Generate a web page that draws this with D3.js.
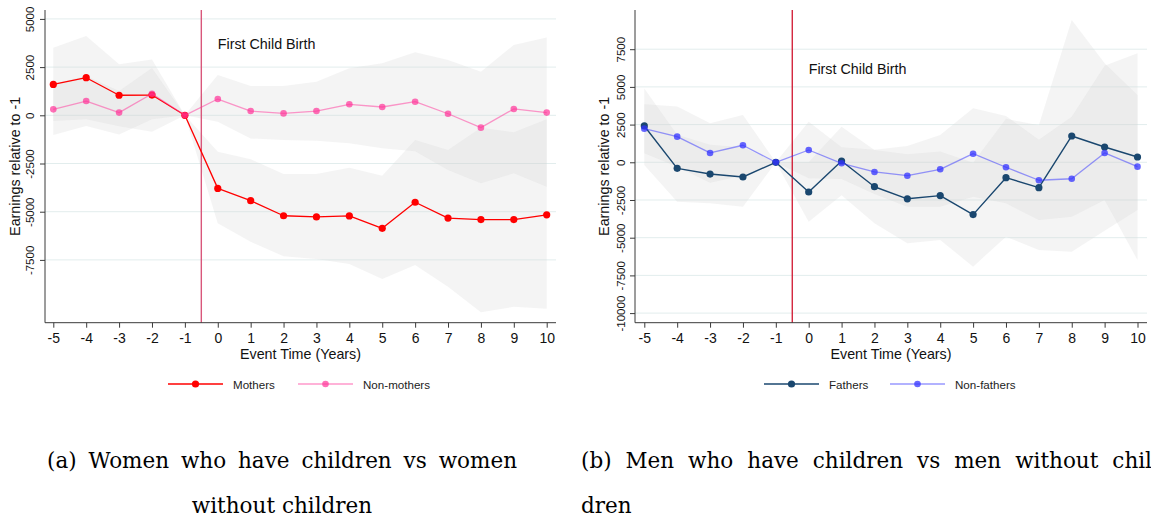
<!DOCTYPE html>
<html>
<head>
<meta charset="utf-8">
<script src="https://cdn.jsdelivr.net/npm/d3@7"></script>
<style>
  html, body { margin: 0; padding: 0; background: #fff; }
  svg { display: block; }
</style>
</head>
<body>
<svg id="chart" width="1151" height="523"></svg>
<script>
// Event time relative to first child birth
const eventYears = [-5, -4, -3, -2, -1, 0, 1, 2, 3, 4, 5, 6, 7, 8, 9, 10];

// Women: earnings relative to year -1
const mothers      = [1600, 1950, 1040, 1050, 0, -3790, -4430, -5210, -5270, -5220, -5860, -4510, -5330, -5410, -5410, -5160];
const mothersLo    = [-300, -210, -570, -850, 0, -5600, -6560, -7310, -7450, -7710, -8490, -7770, -8890, -10220, -9930, -10030];
const mothersHi    = [3500, 4110, 2650, 2900, 0, -1890, -2280, -3050, -3050, -2720, -3130, -1280, -1800, -640, -880, -210];
const nonMothers   = [310, 740, 140, 1120, 0, 845, 220, 100, 220, 570, 430, 705, 80, -640, 330, 140];
const nonMothersLo = [-1020, -560, -990, -200, 0, -330, -1200, -1280, -1320, -1450, -1710, -1860, -2840, -3530, -3010, -3700];
const nonMothersHi = [1640, 2040, 1260, 2450, 0, 2090, 1520, 1520, 1740, 2440, 2700, 3270, 2870, 2260, 3650, 4030];

// Men: earnings relative to year -1
const fathers      = [2410, -400, -780, -975, 0, -1970, 85, -1620, -2420, -2210, -3470, -1020, -1680, 1745, 1015, 350];
const fathersLo    = [-180, -2610, -2720, -2940, 0, -3940, -2190, -4050, -5370, -5150, -6920, -4930, -5820, -5930, -4540, -3160];
const fathersHi    = [4900, 1820, 1170, 990, 0, 0, 2360, 810, 540, 720, -30, 2890, 2450, 9440, 6560, 4460];
const nonFathers   = [2230, 1700, 620, 1130, 0, 815, -65, -640, -890, -465, 570, -330, -1190, -1090, 620, -290];
const nonFathersLo = [600, -300, -1350, -880, 0, -1060, -1100, -2100, -2940, -2940, -2280, -2720, -3830, -3610, -2500, -6480];
const nonFathersHi = [3850, 3700, 2590, 3140, 0, 2690, 1000, 830, 1080, 1810, 3580, 3070, 1500, 3020, 6400, 7230];

// Tick labels
const womenYTicks = [-7500, -5000, -2500, 0, 2500, 5000];
const menYTicks   = [-10000, -7500, -5000, -2500, 0, 2500, 5000, 7500];

const svg = d3.select("#chart");
const SANS = "'Liberation Sans', Arial, Helvetica, sans-serif";
const SERIF = "'DejaVu Serif', 'Liberation Serif', serif";
const plainNumber = d => String(d);

const panels = [
  {
    left: 45, right: 556, top: 10, bottom: 322.7,
    xRange: [53.3, 546.7], yDomain: [-10757, 5462],
    yTicks: womenYTicks,
    tickLabelX: 34.3, titleX: 19.5,
    eventLineColor: "#d9577b", eventLineWidth: 1.4,
    noteY: 3440,
    series: [
      { name: "Mothers", values: mothers, lo: mothersLo, hi: mothersHi,
        color: "#ff0000", lineOpacity: 1, markOpacity: 1, width: 1.3, r: 3.6 },
      { name: "Non-mothers", values: nonMothers, lo: nonMothersLo, hi: nonMothersHi,
        color: "#ff3399", lineOpacity: 0.5, markOpacity: 0.7, width: 1.3, r: 3.3 }
    ],
    legendX: [168, 298],
    caption: ["(a) Women who have children vs women", "without children"],
    captionX: 47, captionW: 470, captionAlign: "center"
  },
  {
    left: 635, right: 1147, top: 10, bottom: 322.7,
    xRange: [644.3, 1137.5], yDomain: [-10637, 10099],
    yTicks: menYTicks,
    tickLabelX: 625, titleX: 608.5,
    eventLineColor: "#d0142e", eventLineWidth: 1.3,
    noteY: 5850,
    series: [
      { name: "Fathers", values: fathers, lo: fathersLo, hi: fathersHi,
        color: "#1a476f", lineOpacity: 1, markOpacity: 1, width: 1.4, r: 3.6 },
      { name: "Non-fathers", values: nonFathers, lo: nonFathersLo, hi: nonFathersHi,
        color: "#3333ff", lineOpacity: 0.5, markOpacity: 0.75, width: 1.3, r: 3.3 }
    ],
    legendX: [764, 890],
    caption: ["(b) Men who have children vs men without chil", "dren"],
    captionX: 581, captionW: 571, captionAlign: "left"
  }
];

panels.forEach(p => {
  const g = svg.append("g");
  const x = d3.scaleLinear().domain([-5, 10]).range(p.xRange);
  const y = d3.scaleLinear().domain(p.yDomain).range([p.bottom, p.top]);

  // Horizontal gridlines
  g.append("g").selectAll("line").data(p.yTicks).join("line")
    .attr("x1", p.left).attr("x2", p.right)
    .attr("y1", d => y(d)).attr("y2", d => y(d))
    .attr("stroke", "#e2eded").attr("stroke-width", 1);

  // Confidence bands
  p.series.forEach(s => {
    const area = d3.area()
      .x((d, i) => x(eventYears[i]))
      .y0((d, i) => y(s.lo[i]))
      .y1((d, i) => y(s.hi[i]));
    g.append("path").datum(s.values)
      .attr("d", area)
      .attr("fill", "#d4d4d4").attr("fill-opacity", 0.25);
  });

  // First child birth marker between -1 and 0
  g.append("line")
    .attr("x1", x(-0.5)).attr("x2", x(-0.5))
    .attr("y1", p.top).attr("y2", p.bottom)
    .attr("stroke", p.eventLineColor).attr("stroke-width", p.eventLineWidth);

  g.append("text")
    .attr("x", x(0)).attr("y", y(p.noteY))
    .attr("font-family", SANS).attr("font-size", 14.3).attr("fill", "#111")
    .text("First Child Birth");

  // Series lines and markers
  p.series.forEach(s => {
    const line = d3.line().x((d, i) => x(eventYears[i])).y(d => y(d));
    g.append("path").datum(s.values)
      .attr("d", line).attr("fill", "none")
      .attr("stroke", s.color).attr("stroke-opacity", s.lineOpacity)
      .attr("stroke-width", s.width).attr("stroke-linejoin", "round");
    g.append("g").selectAll("circle").data(s.values).join("circle")
      .attr("cx", (d, i) => x(eventYears[i])).attr("cy", d => y(d))
      .attr("r", s.r).attr("fill", s.color).attr("fill-opacity", s.markOpacity);
  });

  // Axes
  const axisColor = "#3a3a3a";
  const xAxis = g.append("g").attr("transform", `translate(0,${p.bottom})`)
    .call(d3.axisBottom(x).tickValues(eventYears).tickSize(5).tickPadding(4).tickFormat(plainNumber));
  xAxis.select(".domain").attr("d", `M${p.left},0H${p.right}`).attr("stroke", axisColor);
  xAxis.selectAll(".tick line").attr("stroke", axisColor);
  xAxis.selectAll(".tick text").attr("font-family", SANS).attr("font-size", 14)
    .attr("fill", "#111").attr("dy", null).attr("y", 20.6);

  const yAxis = g.append("g").attr("transform", `translate(${p.left},0)`)
    .call(d3.axisLeft(y).tickValues(p.yTicks).tickSize(5).tickFormat(plainNumber));
  yAxis.select(".domain").attr("d", `M0,${p.top}V${p.bottom}`).attr("stroke", axisColor);
  yAxis.selectAll(".tick line").attr("stroke", axisColor);
  yAxis.selectAll(".tick text")
    .attr("font-family", SANS).attr("font-size", 11.5).attr("fill", "#111")
    .attr("x", null).attr("dy", null)
    .attr("text-anchor", "middle")
    .attr("transform", `translate(${p.tickLabelX - p.left},0) rotate(-90)`);

  // Axis titles
  const midX = (p.left + p.right) / 2, midY = (p.top + p.bottom) / 2;
  g.append("text")
    .attr("x", midX).attr("y", 359)
    .attr("text-anchor", "middle")
    .attr("font-family", SANS).attr("font-size", 14.3).attr("fill", "#111")
    .text("Event Time (Years)");
  g.append("text")
    .attr("transform", `translate(${p.titleX},${midY}) rotate(-90)`)
    .attr("text-anchor", "middle")
    .attr("font-family", SANS).attr("font-size", 14.3).attr("fill", "#111")
    .text("Earnings relative to -1");

  // Legend
  p.series.forEach((s, k) => {
    const lx = p.legendX[k], ly = 384;
    g.append("line").attr("x1", lx).attr("x2", lx + 55).attr("y1", ly).attr("y2", ly)
      .attr("stroke", s.color).attr("stroke-opacity", s.lineOpacity).attr("stroke-width", s.width);
    g.append("circle").attr("cx", lx + 27.5).attr("cy", ly).attr("r", s.r)
      .attr("fill", s.color).attr("fill-opacity", s.markOpacity);
    g.append("text").attr("x", lx + 65).attr("y", ly + 5)
      .attr("font-family", SANS).attr("font-size", 11.6).attr("fill", "#222")
      .text(s.name);
  });

  // Sub-figure caption: first line justified by widening the word gaps
  const capFont = 21.5;
  const cap1 = g.append("text")
    .attr("x", p.captionX).attr("y", 468)
    .attr("font-family", SERIF).attr("font-size", capFont).attr("fill", "#000")
    .text(p.caption[0]);
  const natural = cap1.node().getComputedTextLength();
  const gaps = p.caption[0].split(" ").length - 1;
  const extra = Math.max(0, (p.captionW - natural) / gaps);
  cap1.attr("word-spacing", extra);

  const cap2 = g.append("text")
    .attr("y", 513)
    .attr("font-family", SERIF).attr("font-size", capFont).attr("fill", "#000")
    .text(p.caption[1]);
  if (p.captionAlign === "center") {
    cap2.attr("x", p.captionX + p.captionW / 2).attr("text-anchor", "middle");
  } else {
    cap2.attr("x", p.captionX);
  }
});
</script>
</body>
</html>
